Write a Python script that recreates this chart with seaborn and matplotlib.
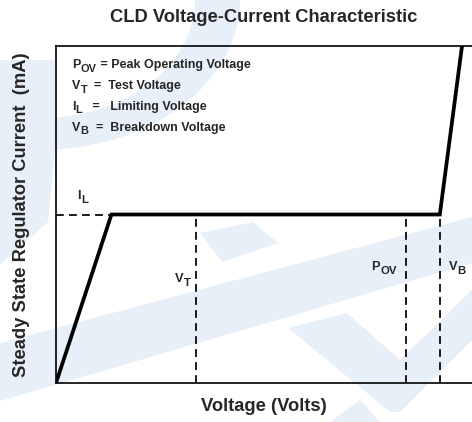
import numpy as np
import pandas as pd
import matplotlib
matplotlib.use("Agg")
import matplotlib.pyplot as plt
import seaborn as sns
from matplotlib.patches import Polygon
from matplotlib.transforms import offset_copy

# characteristic curve (arbitrary units)
curve_v = [0.0, 1.0, 6.92, 7.32]
curve_i = [0.0, 5.0, 5.0, 10.0]

# marker voltages / current
v_t = 2.52
p_ov = 6.31
v_b = 6.92
i_l = 5.0

# (symbol, subscript, description)
legend_items = [
    ("P", "OV", " = Peak Operating Voltage"),
    ("V", "T", "  =  Test Voltage"),
    ("I", "L", "   =   Limiting Voltage"),
    ("V", "B", "  =  Breakdown Voltage"),
]

sns.set_style("white")
plt.rcParams["font.family"] = ["Liberation Sans", "DejaVu Sans"]

fig = plt.figure(figsize=(4.72, 4.22), dpi=100)
ax = fig.add_axes([56 / 472, 39 / 422, 416 / 472, 337 / 422])
ax.patch.set_alpha(0)
renderer = fig.canvas.get_renderer()

# faint watermark in the background (pixel coords, y from top)
W, H = 472.0, 422.0
wm = "#e7f0f8"
shapes = [
    [(0, 343), (0, 401), (472, 263), (472, 217)],
    [(200, 233), (253, 222), (278, 243), (222, 262)],
    [(288, 328), (347, 313), (400, 360), (472, 290), (472, 340), (400, 412),
     (390, 412)],
    [(330, 422), (360, 400), (380, 422)],
    [(0, 60), (0, 265), (48, 222), (55, 150), (55, 60)],
]
for pts in shapes:
    fig.add_artist(Polygon([(x / W, 1 - y / H) for x, y in pts], closed=True,
                           transform=fig.transFigure, facecolor=wm,
                           edgecolor="none", zorder=-5))
t = np.linspace(0, np.pi / 2, 40)
outer = [(40 + 200 * np.cos(a), 150 * np.sin(a)) for a in t]
inner = [(40 + 155 * np.cos(a), 118 * np.sin(a)) for a in t[::-1]]
fig.add_artist(Polygon([(x / W, 1 - y / H) for x, y in outer + inner],
                       closed=True, transform=fig.transFigure, facecolor=wm,
                       edgecolor="none", zorder=-5))


def sub_text(x, y, base, sub, rest="", size=9, weight="bold", trans=None):
    # draw base letter, lowered subscript, then the rest of the line
    trans = trans or ax.transData
    t1 = ax.text(x, y, base, transform=trans, fontsize=size,
                 fontweight=weight, va="baseline", ha="left")
    w1 = t1.get_window_extent(renderer).width
    tr2 = offset_copy(trans, fig=fig, x=w1 * 72 / fig.dpi + 0.3,
                      y=-size * 0.3, units="points")
    t2 = ax.text(x, y, sub, transform=tr2, fontsize=size * 0.88,
                 fontweight=weight, va="baseline", ha="left")
    if rest:
        w2 = t2.get_window_extent(renderer).width
        tr3 = offset_copy(trans, fig=fig, x=(w1 + w2) * 72 / fig.dpi + 0.3,
                          y=0, units="points")
        ax.text(x, y, rest, transform=tr3, fontsize=size, fontweight=weight,
                va="baseline", ha="left")


df = pd.DataFrame({"v": curve_v, "i": curve_i})
sns.lineplot(data=df, x="v", y="i", sort=False, color="black", lw=2.7, ax=ax,
             solid_joinstyle="miter")

dash = (0, (4.5, 3.0))
ax.plot([0, curve_v[1]], [i_l, i_l], color="black", lw=1.25, linestyle=dash)
for v in [v_t, p_ov, v_b]:
    ax.plot([v, v], [0, i_l], color="black", lw=1.25, linestyle=dash)

ax.set_xlim(0, 7.5)
ax.set_ylim(0, 10)
ax.set_xticks([])
ax.set_yticks([])
for side in ["left", "bottom", "top"]:
    ax.spines[side].set_color("black")
    ax.spines[side].set_linewidth(1.2)
ax.spines["right"].set_visible(False)

ax.set_xlabel("Voltage (Volts)", fontsize=13.2, fontweight="bold", labelpad=11)
ax.set_ylabel("Steady State Regulator Current  (mA)", fontsize=13.2,
              fontweight="bold", labelpad=19)
ax.set_title("CLD Voltage-Current Characteristic", fontsize=13.2,
             fontweight="bold", pad=17)

for k, (b, s, r) in enumerate(legend_items):
    sub_text(0.038, 0.935 - k * 0.062, b, s, r, size=9, trans=ax.transAxes)

sub_text(0.38, 5.45, "I", "L", size=9.3, weight="semibold")
sub_text(v_t - 0.38, 3.0, "V", "T", size=9.3, weight="semibold")
sub_text(p_ov - 0.62, 3.35, "P", "OV", size=9.3, weight="semibold")
sub_text(v_b + 0.16, 3.35, "V", "B", size=9.3, weight="semibold")

fig.savefig("out.png", dpi=100)
